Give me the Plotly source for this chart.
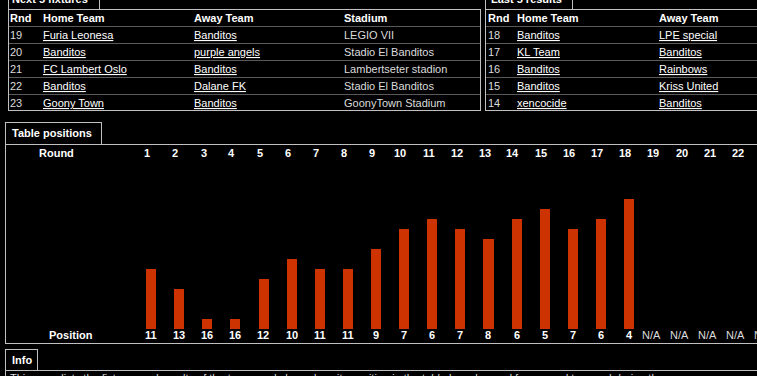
import plotly.graph_objects as go

W, H = 757, 376

# ---------------- data ----------------
rounds = list(range(1, 24))
positions = [11, 13, 16, 16, 12, 10, 11, 11, 9, 7, 6, 7, 8, 6, 5, 7, 6, 4,
             None, None, None, None, None]
baseline_position = 17

fixture_header = ["Rnd", "Home Team", "Away Team", "Stadium"]
fixture_rnd = [19, 20, 21, 22, 23]
fixture_home = ["Furia Leonesa", "Banditos", "FC Lambert Oslo", "Banditos", "Goony Town"]
fixture_away = ["Banditos", "purple angels", "Banditos", "Dalane FK", "Banditos"]
fixture_stadium = ["LEGIO VII", "Stadio El Banditos", "Lambertseter stadion",
                   "Stadio El Banditos", "GoonyTown Stadium"]

result_header = ["Rnd", "Home Team", "Away Team"]
result_rnd = [18, 17, 16, 15, 14]
result_home = ["Banditos", "KL Team", "Banditos", "Banditos", "xencocide"]
result_away = ["LPE special", "Banditos", "Rainbows", "Kriss United", "Banditos"]

info_text = ("This page lists the fixtures and results of the team, and shows how its "
             "position in the table has changed from round to round during the season")

# ---------------- styling ----------------
FONT = "Liberation Sans, Arial, sans-serif"
WHITE = "#ffffff"
GREY_TXT = "#dcdcdc"
BORDER = "#c0c0c0"
SEP = "#5a5a5a"
BAR = "#cc3300"
ROUND_W = 28.12

fig = go.Figure()

played_r = [r for r, p in zip(rounds, positions) if p is not None]
played_p = [p for p in positions if p is not None]
fig.add_trace(go.Bar(
    x=played_r, y=[p - baseline_position for p in played_p], base=baseline_position,
    xaxis="x2", yaxis="y2", width=0.356, marker=dict(color=BAR, line=dict(width=0)),
    hoverinfo="skip", showlegend=False))

shapes = []
ann = []


def hline(x0, x1, y, color=BORDER):
    shapes.append(dict(type="line", xref="x", yref="y", x0=x0, x1=x1, y0=y + 0.5, y1=y + 0.5,
                       line=dict(color=color, width=1)))


def vline(x, y0, y1, color=BORDER):
    shapes.append(dict(type="line", xref="x", yref="y", x0=x + 0.5, x1=x + 0.5, y0=y0, y1=y1,
                       line=dict(color=color, width=1)))


def text(x, y, s, bold=False, link=False, color=None, xref="x", xanchor="left", xshift=0):
    f = dict(family=FONT, size=11, color=color or (WHITE if (bold or link) else GREY_TXT))
    if link:
        f["lineposition"] = "under"
    ann.append(dict(x=x, y=(H - y) / H, xref=xref, yref="paper",
                    text=f"<b>{s}</b>" if bold else str(s),
                    showarrow=False, xanchor=xanchor, yanchor="middle", font=f,
                    xshift=xshift, borderpad=0))


# ---------- Next 5 fixtures ----------
vline(8, -12, 9); vline(99, -12, 9)
text(11, -1, "Next 5 fixtures", bold=True)
hline(8, 481, 9)
vline(8, 9, 111); vline(480, 9, 111)
hline(8, 481, 110)
row_y = [35, 52, 69, 86, 103]
for y in [26, 43, 60, 77, 94]:
    hline(9, 480, y, SEP)
fx = [9, 42, 193, 343]
for x, h in zip(fx, fixture_header):
    text(x, 18, h, bold=True)
for i, y in enumerate(row_y):
    text(fx[0], y, fixture_rnd[i])
    text(fx[1], y, fixture_home[i], link=True)
    text(fx[2], y, fixture_away[i], link=True)
    text(fx[3], y, fixture_stadium[i])

# ---------- Last 5 results ----------
vline(485, -12, 9); vline(572, -12, 9)
text(490, -1, "Last 5 results", bold=True)
hline(485, 757, 9)
vline(485, 9, 111)
hline(485, 757, 110)
for y in [26, 43, 60, 77, 94]:
    hline(486, 757, y, SEP)
rx = [487, 516, 658]
for x, h in zip(rx, result_header):
    text(x, 18, h, bold=True)
for i, y in enumerate(row_y):
    text(rx[0], y, result_rnd[i])
    text(rx[1], y, result_home[i], link=True)
    text(rx[2], y, result_away[i], link=True)

# ---------- Table positions ----------
hline(5, 102, 122); vline(5, 122, 144); vline(101, 122, 144)
text(11, 133, "Table positions", bold=True)
hline(5, 757, 144)
vline(5, 144, 344)
hline(5, 757, 343)
text(56, 153, "Round", bold=True, xanchor="center")
text(71, 335, "Position", bold=True, xanchor="center")
last_r = 22  # last round column fully inside the window
for r, p in zip(rounds, positions):
    xr = min(r, last_r)
    extra = (r - xr) * ROUND_W
    if r <= last_r:
        text(xr, 153, r, bold=True, xref="x2", xanchor="center", xshift=-3.7)
    if p is None:
        text(xr, 335, "N/A", xref="x2", xanchor="center", xshift=-6 + extra, color=GREY_TXT)
    else:
        text(xr, 335, p, bold=True, xref="x2", xanchor="center", xshift=extra)

# ---------- Info ----------
hline(5, 38, 349); vline(5, 349, 376); vline(37, 349, 370)
text(11, 360, "Info", bold=True)
hline(5, 757, 370)
text(9, 378, info_text, color=GREY_TXT)

# axis pixel mapping
x_lo, x_hi = 151 - 0.5 * ROUND_W, 151 + 21.5 * ROUND_W
fig.update_layout(
    width=W, height=H, margin=dict(l=0, r=0, t=0, b=0),
    paper_bgcolor="#000000", plot_bgcolor="#000000",
    xaxis=dict(range=[0, W], domain=[0, 1], visible=False, fixedrange=True),
    yaxis=dict(range=[H, 0], domain=[0, 1], visible=False, fixedrange=True),
    xaxis2=dict(range=[0.5, 22.5], domain=[x_lo / W, x_hi / W], anchor="y2",
                visible=False, fixedrange=True),
    yaxis2=dict(range=[17, 3], domain=[(H - 329) / H, (H - 189) / H], anchor="x2",
                visible=False, fixedrange=True),
    shapes=shapes, annotations=ann, showlegend=False, bargap=0,
)

fig.write_html("out.html", config={"displayModeBar": False})
